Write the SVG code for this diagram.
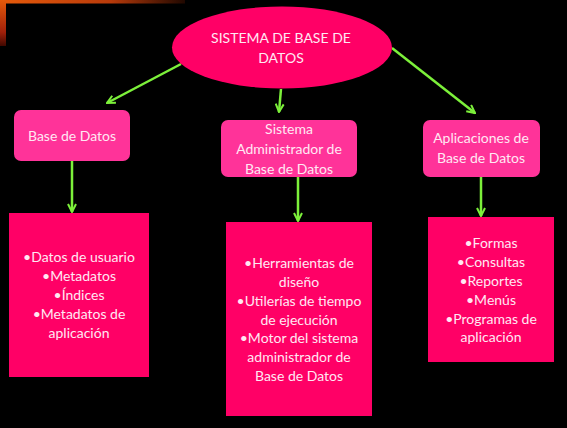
<svg xmlns="http://www.w3.org/2000/svg" width="567" height="428" viewBox="0 0 567 428">
<defs>
<linearGradient id="gTop" x1="0" y1="0" x2="1" y2="0">
<stop offset="0" stop-color="#e65a0a"/>
<stop offset="0.6" stop-color="#b83a0a"/>
<stop offset="1" stop-color="#200800"/>
</linearGradient>
<linearGradient id="gLeft" x1="0" y1="0" x2="0" y2="1">
<stop offset="0" stop-color="#e65a0a"/>
<stop offset="0.7" stop-color="#a0200a"/>
<stop offset="1" stop-color="#400800"/>
</linearGradient>
<marker id="ah" viewBox="0 0 10 10" refX="9" refY="5" markerWidth="4" markerHeight="4" orient="auto" markerUnits="strokeWidth">
<path d="M1,1 L9,5 L1,9" fill="none" stroke="#7cf03a" stroke-width="2"/>
</marker>
</defs>
<style>
text{font-family:Lato,"Liberation Sans",sans-serif;font-size:14px;fill:#ffe8f3;text-anchor:middle}
.sub{fill:#ff0066}
.top{fill:#ff3399}
.con line{stroke:#7cf03a;stroke-width:2.5;marker-end:url(#ah)}
</style>
<rect x="0" y="0" width="567" height="428" fill="#000"/>
<rect x="0" y="0" width="185" height="3.5" fill="url(#gTop)"/>
<rect x="0" y="0" width="6" height="46" fill="url(#gLeft)"/>
<g class="con" id="connectors">
<line x1="181" y1="64" x2="107" y2="103"/>
<line x1="281" y1="89" x2="279" y2="112"/>
<line x1="392" y1="48" x2="475" y2="113"/>
<line x1="72" y1="161" x2="72" y2="212"/>
<line x1="298" y1="177" x2="298" y2="221"/>
<line x1="481" y1="177" x2="481" y2="216"/>
</g>
<g id="root">
<ellipse cx="282" cy="47.5" rx="110" ry="41" class="sub"/>
<text x="281" y="43">SISTEMA DE BASE DE</text>
<text x="281" y="63">DATOS</text>
</g>
<g id="bd">
<rect x="14" y="110" width="116" height="51" rx="7" class="top"/>
<text x="72" y="141">Base de Datos</text>
</g>
<g id="sgbd">
<rect x="221" y="120" width="136" height="57" rx="7" class="top"/>
<text x="289" y="134">Sistema</text>
<text x="289" y="154">Administrador de</text>
<text x="289" y="174">Base de Datos</text>
</g>
<g id="apps">
<rect x="423" y="120" width="117" height="57" rx="7" class="top"/>
<text x="481" y="143">Aplicaciones de</text>
<text x="481" y="163">Base de Datos</text>
</g>
<g id="bd-items">
<rect x="9" y="213" width="140" height="164" class="sub"/>
<text x="79" y="262">•Datos de usuario</text>
<text x="79" y="281">•Metadatos</text>
<text x="79" y="300">•Índices</text>
<text x="79" y="319">•Metadatos de</text>
<text x="79" y="338">aplicación</text>
</g>
<g id="sgbd-items">
<rect x="226" y="222" width="146" height="194" class="sub"/>
<text x="299" y="268">•Herramientas de</text>
<text x="299" y="287">diseño</text>
<text x="299" y="306">•Utilerías de tiempo</text>
<text x="299" y="325">de ejecución</text>
<text x="299" y="343">•Motor del sistema</text>
<text x="299" y="362">administrador de</text>
<text x="299" y="381">Base de Datos</text>
</g>
<g id="apps-items">
<rect x="428" y="217" width="126" height="145" class="sub"/>
<text x="491" y="248">•Formas</text>
<text x="491" y="267">•Consultas</text>
<text x="491" y="286">•Reportes</text>
<text x="491" y="305">•Menús</text>
<text x="491" y="324">•Programas de</text>
<text x="491" y="342">aplicación</text>
</g>
</svg>
